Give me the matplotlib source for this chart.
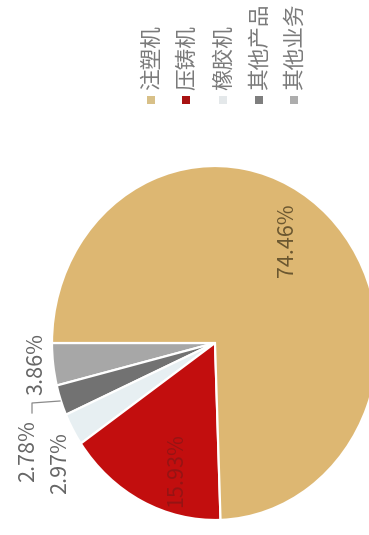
import matplotlib
matplotlib.use("Agg")
import matplotlib.pyplot as plt

plt.rcParams['font.family'] = ['Noto Sans CJK SC', 'DejaVu Sans']

# Revenue share by business line (%)
names = ["注塑机", "压铸机", "橡胶机", "其他产品", "其他业务"]
shares = [74.46, 15.93, 2.97, 2.78, 3.86]
colors = ["#ddb772", "#c20e0e", "#e7eff2", "#727272", "#a7a7a7"]
legend_colors = ["#d8c088", "#a81212", "#e4e8ea", "#7e7e7e", "#adadad"]
label_colors = ["#6b5730", "#961414", "#666666", "#666666", "#666666"]

W, H = 369, 535
fig = plt.figure(figsize=(W / 100, H / 100), dpi=100)
ax = fig.add_axes([0, 0, 1, 1])

# pie centre and radii in pixels (the pie is drawn slightly stretched)
cx, cy, rx, ry = 215, 343, 163, 177


def px(x, y):
    return (x - cx) / rx, (cy - y) / ry


# slices go counter-clockwise from the left, small ones first
order = [4, 3, 2, 1, 0]
ax.pie([shares[i] for i in order], colors=[colors[i] for i in order],
       startangle=180, counterclock=True,
       wedgeprops=dict(edgecolor="white", linewidth=1.6))
ax.set_aspect("auto")
ax.set_xlim((0 - cx) / rx, (W - cx) / rx)
ax.set_ylim((cy - H) / ry, cy / ry)
ax.axis("off")

# percentage labels, rotated to read bottom to top
label_pos = [(287, 240), (176, 470), (60, 463), (28, 451), (36, 364)]
for i, (x, y) in enumerate(label_pos):
    ax.text(*px(x, y), f"{shares[i]:.2f}%", rotation=90, ha="center",
            va="center", fontsize=15.5, color=label_colors[i])

# leader line for the 其他产品 label
lx, ly = zip(px(32, 413), px(32, 403), px(60, 401))
ax.plot(lx, ly, color="#8a8a8a", lw=0.9)

# legend: colour square with the name above it
leg_x = [151, 186, 223, 259, 294]
for i, name in enumerate(names):
    ax.scatter(*px(leg_x[i], 100), marker="s", s=30, color=legend_colors[i],
               linewidths=0)
    ax.text(*px(leg_x[i] + 1, 90), name, rotation=90, rotation_mode="anchor",
            ha="left", va="center", fontsize=15.6, color="#7a7a7a")

fig.savefig("out.png", dpi=100)
